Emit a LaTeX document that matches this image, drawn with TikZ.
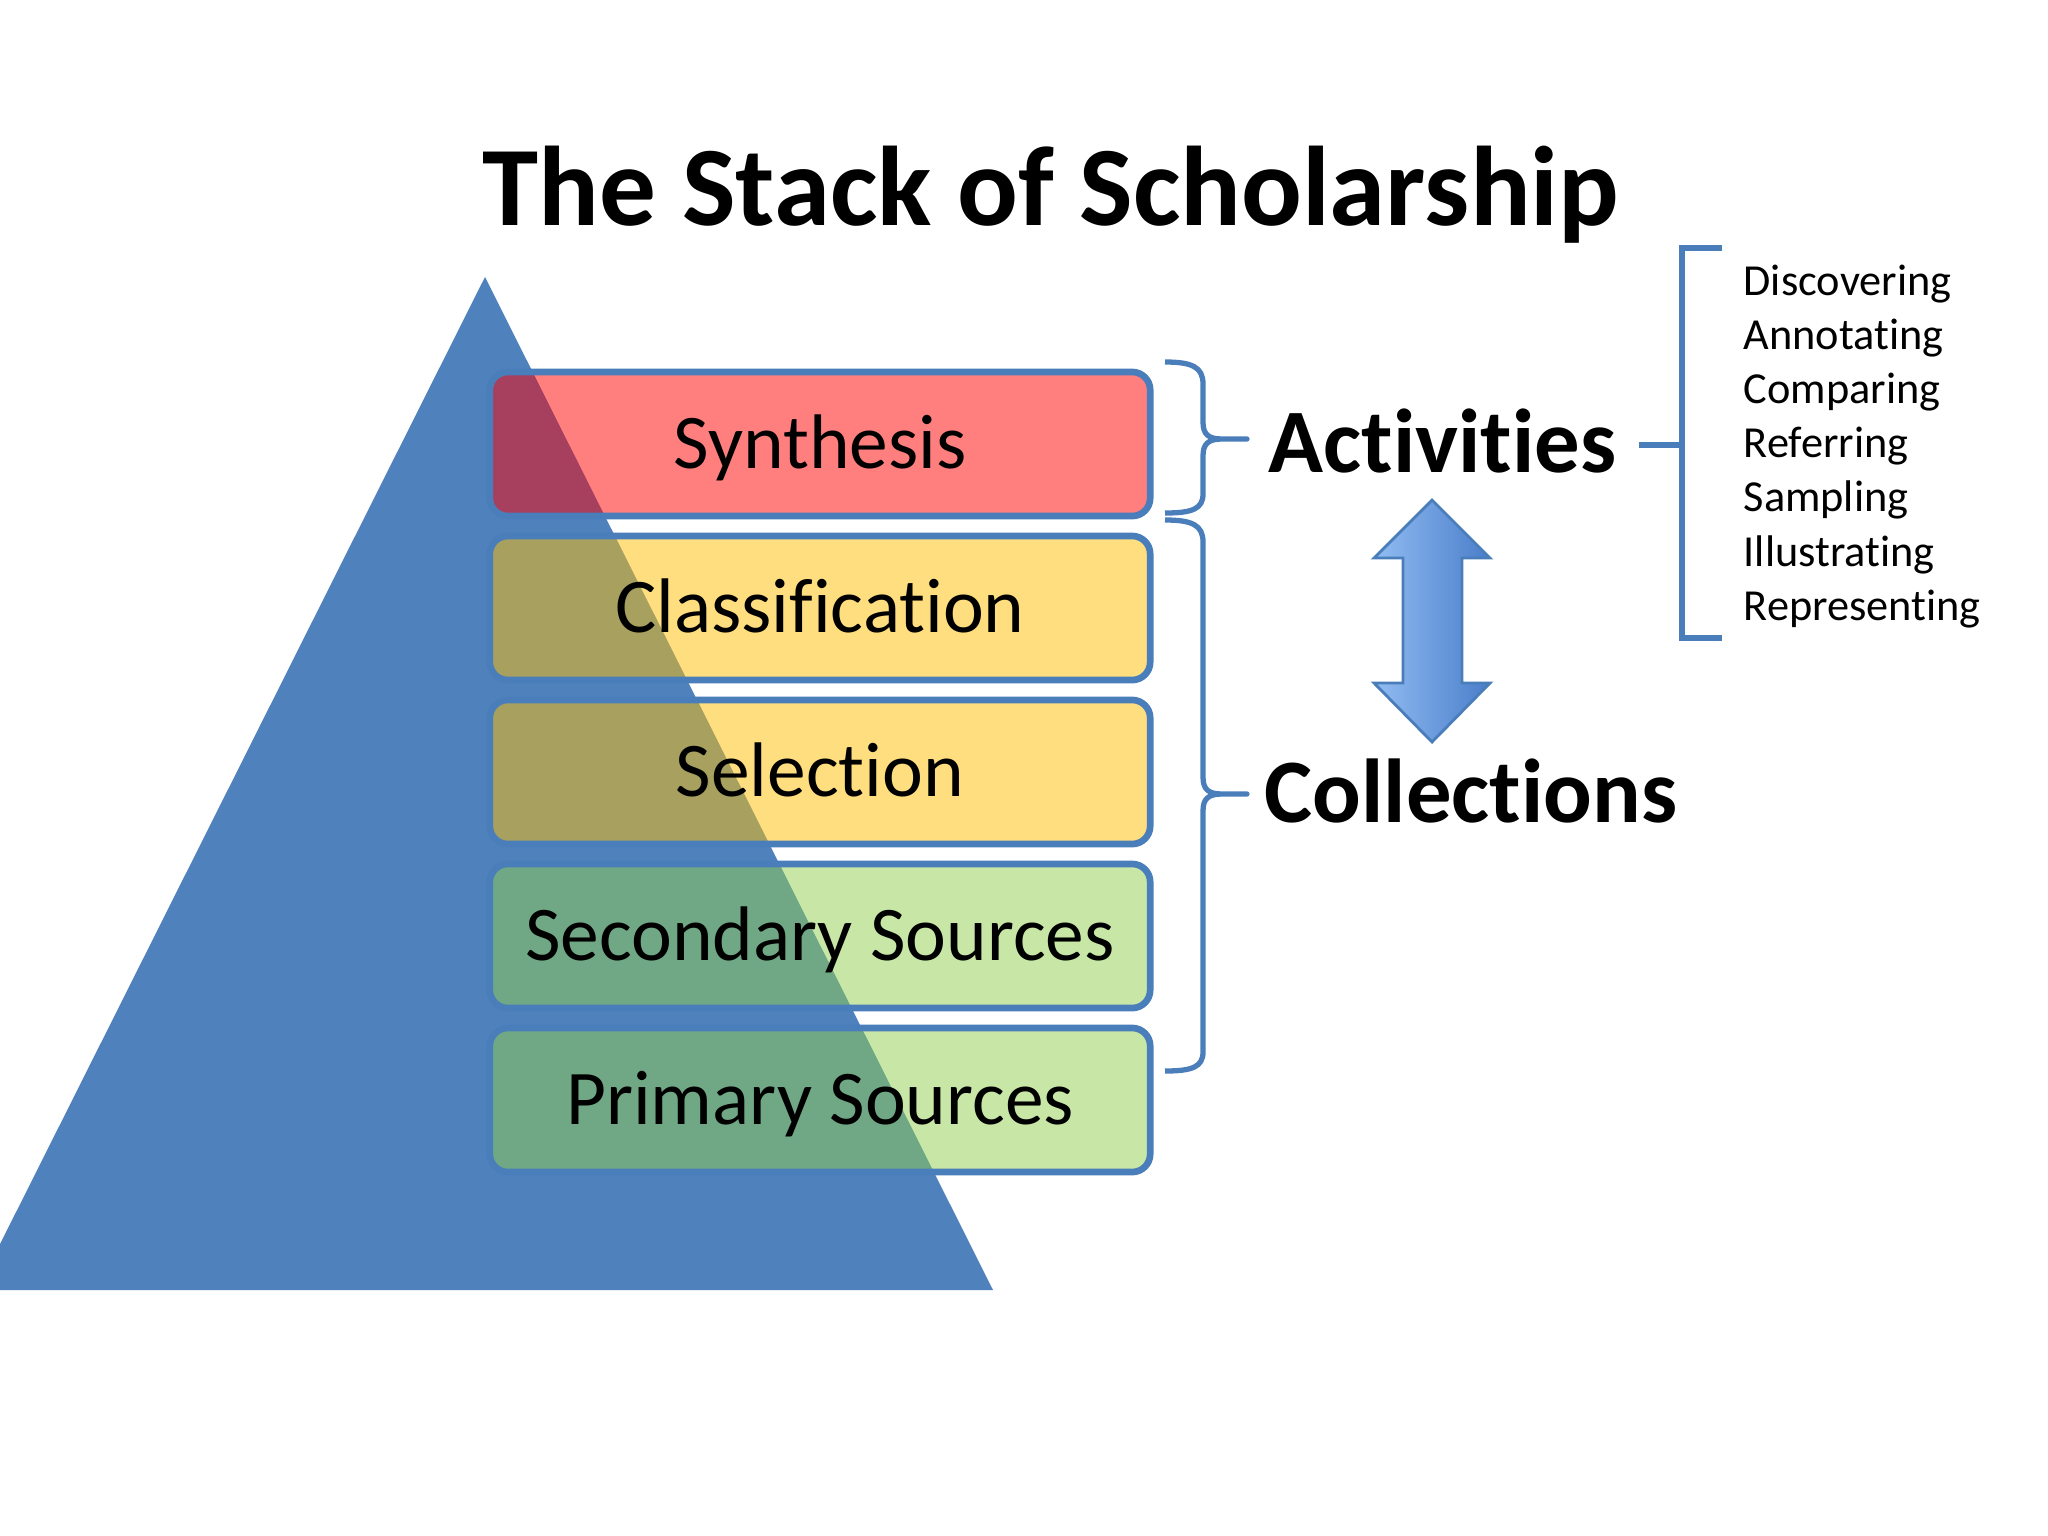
\documentclass[tikz,border=0pt]{standalone}
\usepackage{fontspec}
\setmainfont{Carlito}[Ligatures=NoCommon]
\definecolor{triblue}{RGB}{79,129,189}
\definecolor{edgeblue}{RGB}{74,126,187}
\definecolor{boxred}{RGB}{255,0,0}
\definecolor{boxgold}{RGB}{255,191,0}
\definecolor{boxgreen}{RGB}{146,208,80}
\definecolor{arrowlight}{RGB}{146,188,242}
\definecolor{arrowdark}{RGB}{74,126,202}
\begin{document}
\begin{tikzpicture}[x=0.01cm,y=-0.01cm,
  layer/.style={draw=edgeblue, line width=1.9pt, rounded corners=0.18cm,
    minimum width=6.6cm, minimum height=1.44cm, inner sep=0pt,
    fill opacity=0.5, text opacity=1, font=\fontsize{22}{26}\selectfont,
    text height=16pt, text depth=1.8pt},
  bracestyle/.style={draw=edgeblue, line width=1.5pt, line join=round},
  bracketstyle/.style={draw=edgeblue, line width=1.7pt},
  bigword/.style={anchor=base west, inner sep=0pt, font=\fontsize{25.8}{30}\selectfont\bfseries},
  item/.style={anchor=base west, inner sep=0pt, font=\fontsize{12.6}{15}\selectfont}]
\useasboundingbox (0,0) rectangle (2048,1536);
\fill[white] (0,0) rectangle (2048,1536);
% title
\node[anchor=base, inner sep=0pt, font=\fontsize{32.2}{38}\selectfont\bfseries] (title) at (1051,225) {The Stack of Scholarship};
% triangle
\begin{scope}
\clip (0,0) rectangle (2048,1536);
\fill[triblue] (485,277) -- (993,1290) -- (-23,1290) -- cycle;
\end{scope}
% layers
\node[layer, fill=boxred]   (syn) at (820,444)  {Synthesis};
\node[layer, fill=boxgold]  (cla) at (820,608)  {Classification};
\node[layer, fill=boxgold]  (sel) at (820,772)  {Selection};
\node[layer, fill=boxgreen] (sec) at (820,936)  {Secondary Sources};
\node[layer, fill=boxgreen] (pri) at (820,1100) {Primary Sources};
% braces
\coordinate (b1t) at (1165,362);
\coordinate (b1tip) at (1247,439);
\coordinate (b1b) at (1165,513);
\draw[bracestyle] (b1t) .. controls (1192,362) and (1203,367) .. (1203,384)
  -- (1203,422) .. controls (1203,434) and (1208,439) .. (1222,439) -- (b1tip)
  -- (1222,439) .. controls (1208,439) and (1203,444) .. (1203,456)
  -- (1203,494) .. controls (1203,509) and (1192,513) .. (b1b);
\coordinate (b2t) at (1165,520);
\coordinate (b2tip) at (1247,794);
\coordinate (b2b) at (1165,1071);
\draw[bracestyle] (b2t) .. controls (1192,520) and (1203,525) .. (1203,542)
  -- (1203,777) .. controls (1203,789) and (1208,794) .. (1222,794) -- (b2tip)
  -- (1222,794) .. controls (1208,794) and (1203,799) .. (1203,811)
  -- (1203,1052) .. controls (1203,1067) and (1192,1071) .. (b2b);
% words
\node[bigword] (act) at (1268,472) {Activities};
\node[bigword] (col) at (1264,822) {Collections};
% double arrow
\draw[draw=edgeblue, line width=0.8pt, line join=miter, left color=arrowlight, right color=arrowdark]
  (1432,500) -- (1490,558) -- (1462,558) -- (1462,683) -- (1490,683) -- (1432,742)
  -- (1374,683) -- (1403,683) -- (1403,558) -- (1374,558) -- cycle;
% bracket to the list
\coordinate (lk0) at (1639,445);
\coordinate (lk1) at (1682,445);
\draw[bracketstyle] (lk0) -- (lk1);
\draw[bracketstyle] (1722,248) -- (1682,248) -- (1682,638) -- (1722,638);
% list
\node[item] (i1) at (1743,295)   {Discovering};
\node[item] (i2) at (1743,349.2) {Annotating};
\node[item] (i3) at (1743,403.4) {Comparing};
\node[item] (i4) at (1743,457.6) {Referring};
\node[item] (i5) at (1743,511.8) {Sampling};
\node[item] (i6) at (1743,566)   {Illustrating};
\node[item] (i7) at (1743,620.2) {Representing};
\end{tikzpicture}
\end{document}
